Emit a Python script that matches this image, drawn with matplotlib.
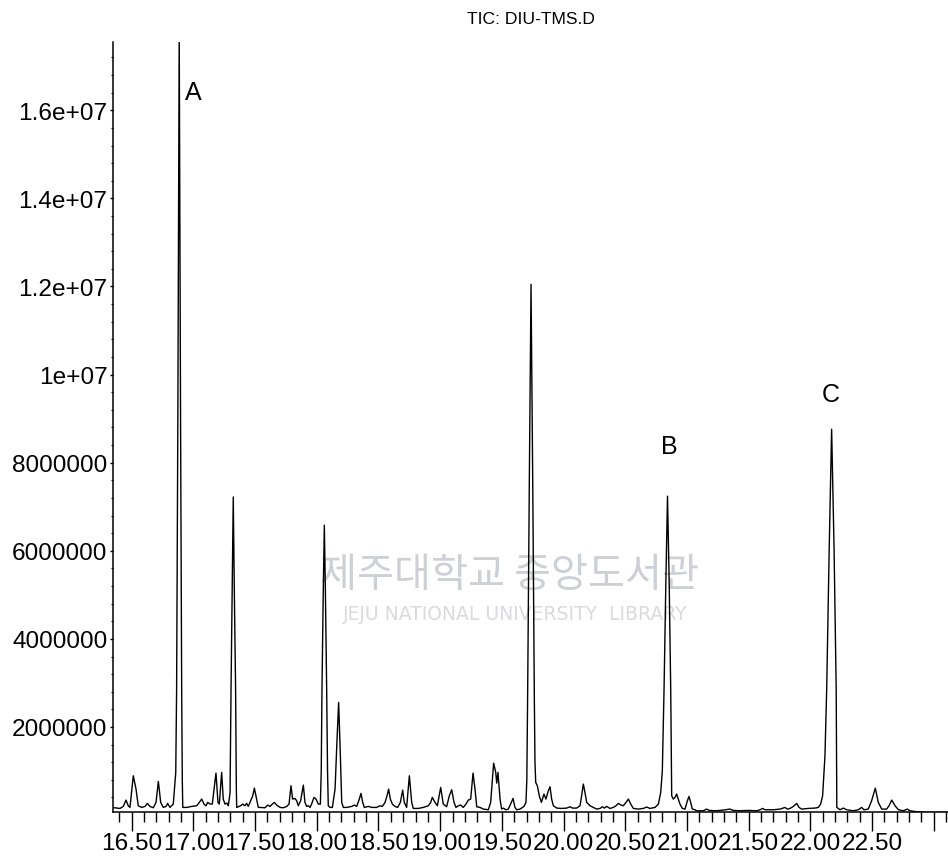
import numpy as np
import matplotlib
matplotlib.use("Agg")
import matplotlib.pyplot as plt
from matplotlib.ticker import MultipleLocator, FixedLocator, FixedFormatter

# retention time (min) and abundance (millions of counts)
times = [16.349, 16.405, 16.432, 16.454, 16.472, 16.486, 16.513, 16.535, 16.553, 16.581,
         16.608, 16.627, 16.648, 16.675, 16.697, 16.716, 16.735, 16.756, 16.778, 16.792,
         16.810, 16.837, 16.857, 16.864, 16.874, 16.885, 16.896, 16.905, 16.910, 16.914,
         16.946, 16.986, 17.027, 17.048, 17.067, 17.086, 17.102, 17.116, 17.135, 17.153,
         17.183, 17.199, 17.210, 17.229, 17.242, 17.256, 17.270, 17.283, 17.297, 17.305,
         17.314, 17.323, 17.332, 17.342, 17.348, 17.351, 17.383, 17.399, 17.418, 17.432,
         17.445, 17.481, 17.494, 17.507, 17.526, 17.540, 17.580, 17.602, 17.621, 17.640,
         17.656, 17.675, 17.702, 17.729, 17.756, 17.775, 17.791, 17.804, 17.823, 17.837,
         17.850, 17.869, 17.891, 17.904, 17.918, 17.931, 17.945, 17.958, 17.977, 17.994,
         18.012, 18.029, 18.036, 18.042, 18.052, 18.061, 18.070, 18.080, 18.087, 18.093,
         18.107, 18.126, 18.148, 18.164, 18.177, 18.191, 18.202, 18.215, 18.242, 18.283,
         18.304, 18.323, 18.342, 18.358, 18.372, 18.385, 18.418, 18.445, 18.485, 18.512,
         18.531, 18.553, 18.569, 18.582, 18.596, 18.612, 18.634, 18.655, 18.677, 18.696,
         18.709, 18.728, 18.750, 18.769, 18.782, 18.823, 18.863, 18.904, 18.923, 18.936,
         18.958, 18.977, 19.004, 19.025, 19.052, 19.074, 19.093, 19.112, 19.128, 19.147,
         19.166, 19.187, 19.209, 19.228, 19.247, 19.266, 19.282, 19.296, 19.323, 19.350,
         19.390, 19.409, 19.433, 19.450, 19.458, 19.468, 19.485, 19.498, 19.512, 19.533,
         19.552, 19.574, 19.590, 19.606, 19.620, 19.647, 19.679, 19.695, 19.702, 19.709,
         19.722, 19.736, 19.750, 19.763, 19.768, 19.774, 19.787, 19.803, 19.820, 19.841,
         19.857, 19.876, 19.890, 19.903, 19.917, 19.944, 19.984, 20.025, 20.052, 20.071,
         20.106, 20.133, 20.146, 20.160, 20.173, 20.187, 20.214, 20.241, 20.268, 20.295,
         20.314, 20.330, 20.349, 20.376, 20.403, 20.425, 20.444, 20.465, 20.484, 20.506,
         20.525, 20.544, 20.565, 20.606, 20.646, 20.673, 20.700, 20.741, 20.768, 20.787,
         20.800, 20.814, 20.828, 20.842, 20.856, 20.868, 20.874, 20.876, 20.889, 20.903,
         20.916, 20.930, 20.943, 20.962, 20.984, 21.003, 21.016, 21.030, 21.043, 21.065,
         21.078, 21.132, 21.159, 21.181, 21.240, 21.294, 21.348, 21.375, 21.429, 21.497,
         21.565, 21.592, 21.613, 21.632, 21.700, 21.754, 21.794, 21.813, 21.835, 21.862,
         21.889, 21.908, 21.929, 21.983, 22.037, 22.064, 22.083, 22.099, 22.118, 22.132,
         22.152, 22.172, 22.192, 22.209, 22.212, 22.214, 22.240, 22.267, 22.294, 22.348,
         22.388, 22.415, 22.434, 22.469, 22.496, 22.526, 22.550, 22.578, 22.618, 22.637,
         22.659, 22.686, 22.713, 22.753, 22.786, 22.807, 22.861, 22.942, 23.023, 23.115]
abund_m = [0.170, 0.151, 0.197, 0.340, 0.212, 0.174, 0.893, 0.590, 0.212, 0.174,
           0.197, 0.265, 0.197, 0.166, 0.288, 0.764, 0.288, 0.174, 0.197, 0.265,
           0.174, 0.250, 0.969, 2.860, 9.000, 17.80, 9.000, 2.860, 0.800, 0.174,
           0.174, 0.197, 0.212, 0.288, 0.363, 0.250, 0.212, 0.288, 0.250, 0.250,
           0.953, 0.288, 0.250, 0.969, 0.363, 0.250, 0.272, 0.212, 0.500, 2.860,
           5.000, 7.220, 5.000, 2.860, 0.600, 0.174, 0.212, 0.250, 0.212, 0.265,
           0.197, 0.439, 0.613, 0.439, 0.174, 0.174, 0.166, 0.227, 0.197, 0.250,
           0.288, 0.227, 0.174, 0.166, 0.197, 0.250, 0.666, 0.363, 0.378, 0.325,
           0.212, 0.325, 0.681, 0.288, 0.197, 0.212, 0.174, 0.250, 0.401, 0.363,
           0.250, 0.250, 1.000, 2.860, 5.000, 6.580, 5.000, 2.860, 1.000, 0.212,
           0.174, 0.174, 0.590, 1.725, 2.558, 1.347, 0.288, 0.174, 0.174, 0.197,
           0.227, 0.197, 0.341, 0.492, 0.288, 0.174, 0.197, 0.174, 0.174, 0.212,
           0.197, 0.288, 0.439, 0.590, 0.363, 0.250, 0.197, 0.174, 0.288, 0.568,
           0.288, 0.174, 0.893, 0.288, 0.151, 0.151, 0.174, 0.212, 0.288, 0.401,
           0.288, 0.212, 0.628, 0.250, 0.189, 0.439, 0.575, 0.288, 0.174, 0.212,
           0.227, 0.174, 0.250, 0.341, 0.363, 0.953, 0.590, 0.189, 0.174, 0.136,
           0.121, 0.288, 1.180, 0.969, 0.726, 0.969, 0.363, 0.136, 0.159, 0.121,
           0.136, 0.272, 0.378, 0.174, 0.121, 0.136, 0.197, 0.288, 0.800, 2.860,
           7.500, 12.05, 7.500, 2.600, 1.200, 0.741, 0.666, 0.439, 0.288, 0.477,
           0.363, 0.552, 0.643, 0.363, 0.212, 0.159, 0.151, 0.159, 0.189, 0.159,
           0.159, 0.212, 0.439, 0.704, 0.515, 0.288, 0.212, 0.174, 0.136, 0.151,
           0.189, 0.159, 0.197, 0.151, 0.174, 0.212, 0.265, 0.227, 0.212, 0.288,
           0.363, 0.250, 0.151, 0.136, 0.151, 0.182, 0.151, 0.174, 0.250, 0.515,
           1.000, 2.860, 5.200, 7.240, 5.200, 2.860, 1.000, 0.439, 0.363, 0.401,
           0.477, 0.363, 0.250, 0.151, 0.136, 0.325, 0.424, 0.288, 0.136, 0.121,
           0.098, 0.098, 0.136, 0.106, 0.098, 0.114, 0.136, 0.106, 0.098, 0.106,
           0.098, 0.121, 0.151, 0.121, 0.121, 0.136, 0.174, 0.136, 0.151, 0.197,
           0.265, 0.174, 0.136, 0.151, 0.159, 0.174, 0.250, 0.439, 1.350, 2.860,
           6.000, 8.760, 6.000, 2.860, 1.000, 0.174, 0.121, 0.159, 0.121, 0.098,
           0.121, 0.174, 0.121, 0.136, 0.325, 0.613, 0.288, 0.136, 0.136, 0.212,
           0.341, 0.212, 0.121, 0.098, 0.136, 0.098, 0.076, 0.061, 0.061, 0.061]

peak_labels = ["A", "B", "C"]
label_times = [16.997, 20.855, 22.166]
label_abund_m = [16.41, 8.38, 9.56]

x_major = [16.5, 17.0, 17.5, 18.0, 18.5, 19.0, 19.5, 20.0, 20.5, 21.0, 21.5, 22.0, 22.5, 23.0]
x_labels = ["16.50", "17.00", "17.50", "18.00", "18.50", "19.00", "19.50", "20.00",
            "20.50", "21.00", "21.50", "22.00", "22.50", ""]
y_major = [2e6, 4e6, 6e6, 8e6, 1e7, 1.2e7, 1.4e7, 1.6e7]
y_labels = ["2000000", "4000000", "6000000", "8000000", "1e+07", "1.2e+07", "1.4e+07", "1.6e+07"]

title = "TIC: DIU-TMS.D"

plt.rcParams['font.family'] = ['Liberation Sans', 'DejaVu Sans']

fig = plt.figure(figsize=(9.48, 8.62), dpi=100)
ax = fig.add_axes([113 / 948, 49 / 862, 835 / 948, 770 / 862])

abund = np.array(abund_m) * 1e6
ax.plot(times, abund, color="black", lw=1.0, zorder=3)

for lab, t, a in zip(peak_labels, label_times, label_abund_m):
    ax.text(t, a * 1e6, lab, fontsize=18, ha="center", va="center")

ax.set_xlim(16.3485, 23.115)
ax.set_ylim(0.07e6, 17.55e6)

ax.xaxis.set_major_locator(FixedLocator(x_major))
ax.xaxis.set_major_formatter(FixedFormatter(x_labels))
ax.xaxis.set_minor_locator(MultipleLocator(0.1))
ax.yaxis.set_major_locator(FixedLocator(y_major))
ax.yaxis.set_major_formatter(FixedFormatter(y_labels))
ax.yaxis.set_minor_locator(MultipleLocator(4e5))

ax.tick_params(axis="x", which="major", length=13.7, width=1, pad=0.8, labelsize=17.6)
ax.tick_params(axis="x", which="minor", length=7.2, width=1)
ax.tick_params(axis="y", which="major", length=2.5, width=1, pad=1.5, labelsize=17.6)
ax.tick_params(axis="y", which="minor", length=1.5, width=0.8)

for side in ["top", "right"]:
    ax.spines[side].set_visible(False)
for side in ["left", "bottom"]:
    ax.spines[side].set_linewidth(1.1)

fig.text(531 / 948, 1 - 20 / 862, title, fontsize=12.6, ha="center", va="center")

# faint library watermark from the scanned page, kept under the trace
ax.text(510 / 948, 1 - 575 / 862, "제주대학교 중앙도서관", fontsize=29,
        family=['Noto Sans CJK KR', 'DejaVu Sans'], color="#cdd0d4",
        ha="center", va="center", transform=fig.transFigure, zorder=1)
ax.text(515 / 948, 1 - 615 / 862, "JEJU NATIONAL UNIVERSITY  LIBRARY", fontsize=13.5,
        family=['DejaVu Sans'], color="#d8dadd", ha="center", va="center",
        transform=fig.transFigure, zorder=1)

fig.savefig("out.png", dpi=100)
